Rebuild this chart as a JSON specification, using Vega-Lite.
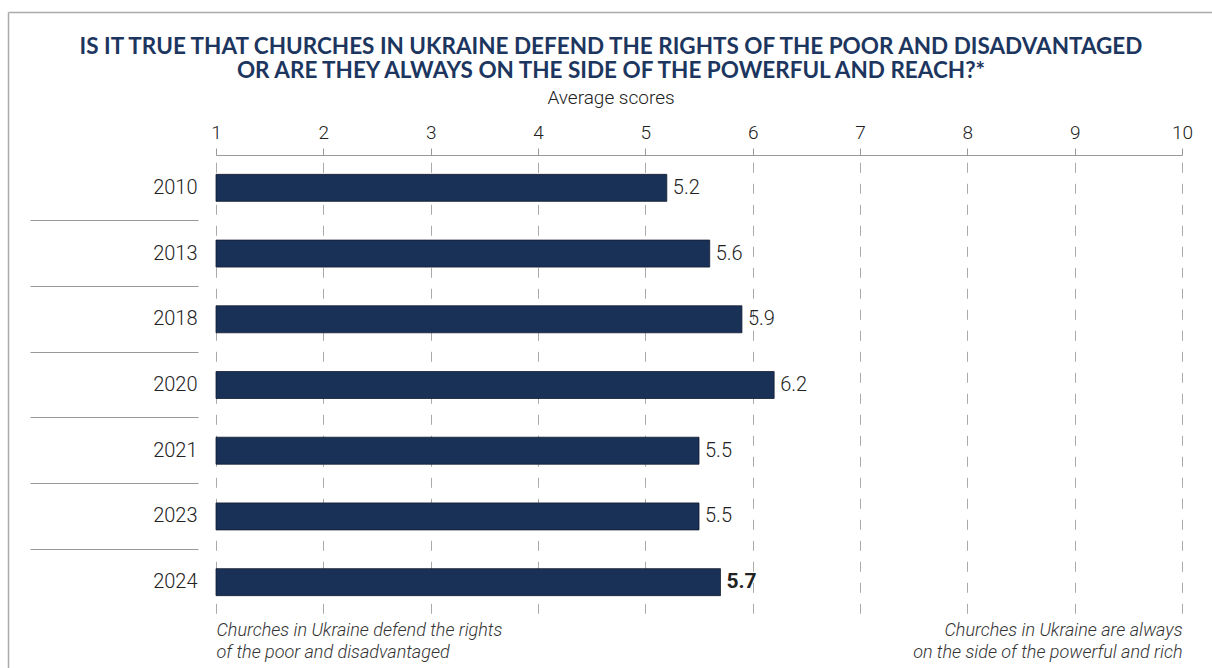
{
  "$schema": "https://vega.github.io/schema/vega-lite/v6.json",
  "autosize": {"type": "none"},
  "padding": {"left": 216, "top": 155, "right": 30, "bottom": 53},
  "width": 966,
  "height": 460,
  "background": "white",
  "title": {
    "text": ["IS IT TRUE THAT CHURCHES IN UKRAINE DEFEND THE RIGHTS OF THE POOR AND DISADVANTAGED", "OR ARE THEY ALWAYS ON THE SIDE OF THE POWERFUL AND REACH?*"],
    "subtitle": "Average scores",
    "anchor": "middle",
    "frame": "group",
    "font": "Lato",
    "fontSize": 22.5,
    "fontWeight": "bold",
    "color": "#1c3660",
    "lineHeight": 24,
    "limit": 0,
    "subtitleFont": "Roboto",
    "subtitleFontSize": 19,
    "subtitleFontWeight": 300,
    "subtitleColor": "#222222",
    "subtitlePadding": 7,
    "offset": 0,
    "dx": -88,
    "dy": 99
  },
  "config": {"view": {"stroke": null}, "font": "Roboto"},
  "data": {"values": [
    {"year": "2010", "score": 5.2},
    {"year": "2013", "score": 5.6},
    {"year": "2018", "score": 5.9},
    {"year": "2020", "score": 6.2},
    {"year": "2021", "score": 5.5},
    {"year": "2023", "score": 5.5},
    {"year": "2024", "score": 5.7}
  ]},
  "layer": [
    {
      "data": {"values": [{"frame": 0}]},
      "mark": {"type": "point", "opacity": 0},
      "encoding": {
        "x": {"field": "frame", "type": "quantitative",
          "scale": {"domain": [0, 1], "range": [-208, 996], "nice": false, "zero": false},
          "axis": {"orient": "top", "offset": 143, "domainColor": "#aaaaaa", "domainWidth": 1.5, "ticks": false, "labels": false, "grid": false, "title": null}},
        "y": {"field": "frame", "type": "quantitative",
          "scale": {"domain": [0, 1], "range": [-143, 513], "nice": false, "zero": false},
          "axis": {"orient": "left", "offset": 208, "domainColor": "#aaaaaa", "domainWidth": 1.5, "ticks": false, "labels": false, "grid": false, "title": null}}
      }
    },
    {
      "layer": [
        {
          "mark": {"type": "bar", "size": 27, "color": "#1a3157", "stroke": "#111c30", "strokeWidth": 0.8},
          "encoding": {
            "y": {"field": "year", "type": "ordinal", "sort": null,
              "scale": {"paddingInner": 0, "paddingOuter": 0},
              "axis": {"orient": "left", "offset": 18, "domain": false, "ticks": true, "tickSize": 168,
                "tickColor": "#999999", "tickWidth": 1, "bandPosition": 0,
                "tickOpacity": {"condition": {"test": "datum.value == '2010'", "value": 0}, "value": 1},
                "labelPadding": -167, "labelAlign": "right", "labelFontSize": 20, "labelFontWeight": 300,
                "labelColor": "#222222", "title": null, "grid": false}},
            "x": {"field": "score", "type": "quantitative",
              "scale": {"domain": [1, 10], "nice": false, "zero": false},
              "axis": {"orient": "top", "values": [1, 2, 3, 4, 5, 6, 7, 8, 9, 10], "domainColor": "#999999", "domainWidth": 1,
                "tickColor": "#999999", "tickSize": 7, "labelPadding": 6, "labelFontSize": 19, "labelFontWeight": 300,
                "labelColor": "#222222", "labelFlush": false, "title": null,
                "grid": true, "gridColor": "#aaaaaa", "gridDash": [10, 11], "gridDashOffset": 13.7, "gridWidth": 1}},
            "x2": {"datum": 1}
          }
        },
        {
          "transform": [{"filter": "datum.year != '2024'"}],
          "mark": {"type": "text", "align": "left", "baseline": "middle", "dx": 6, "fontSize": 20, "fontWeight": 300, "color": "#222222"},
          "encoding": {
            "y": {"field": "year", "type": "ordinal", "sort": null},
            "x": {"field": "score", "type": "quantitative",
              "axis": {"orient": "bottom", "values": [1, 10],
                "labelExpr": "datum.value == 1 ? ['Churches in Ukraine defend the rights', 'of the poor and disadvantaged'] : ['Churches in Ukraine are always', 'on the side of the powerful and rich']",
                "labelAlign": {"condition": {"test": "datum.value == 1", "value": "left"}, "value": "right"},
                "labelBaseline": "top", "labelFontStyle": "italic", "labelFontSize": 18, "labelFontWeight": 300,
                "labelColor": "#333333", "labelLineHeight": 22, "ticks": false, "domain": false, "grid": false,
                "labelPadding": 6, "labelLimit": 0, "title": null, "labelFlush": false, "labelOverlap": false, "labelBound": false}},
            "text": {"field": "score", "type": "quantitative", "format": ".1f"}
          }
        },
        {
          "transform": [{"filter": "datum.year == '2024'"}],
          "mark": {"type": "text", "align": "left", "baseline": "middle", "dx": 6, "fontSize": 21, "fontWeight": "bold", "color": "#222222"},
          "encoding": {
            "y": {"field": "year", "type": "ordinal", "sort": null},
            "x": {"field": "score", "type": "quantitative", "axis": null},
            "text": {"field": "score", "type": "quantitative", "format": ".1f"}
          }
        }
      ],
      "resolve": {"axis": {"x": "independent"}}
    }
  ],
  "resolve": {"scale": {"x": "independent", "y": "independent"}, "axis": {"x": "independent", "y": "independent"}}
}
